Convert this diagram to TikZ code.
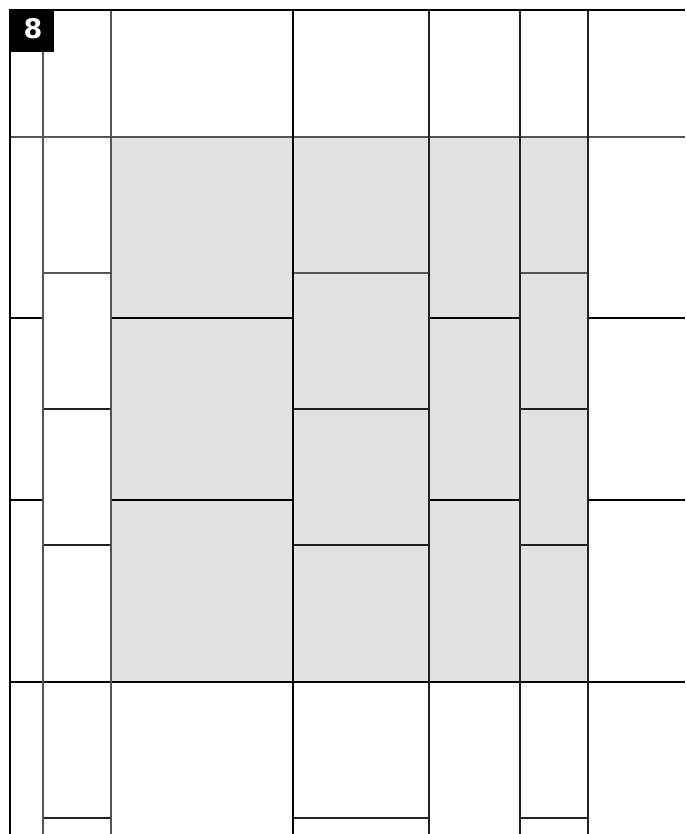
\documentclass[tikz,border=0pt]{standalone}
\usepackage{fontspec}
\newfontfamily\labelfont{DejaVu Sans}
\definecolor{cellgray}{HTML}{E1E1E1}
\definecolor{lineg}{HTML}{555555}
\definecolor{lined}{HTML}{222222}
\begin{document}
\begin{tikzpicture}[x=1pt,y=-1pt,
  blk/.style={draw=black,line width=2pt},
  gry/.style={draw=lineg,line width=2pt},
  drk/.style={draw=lined,line width=2pt}]
\useasboundingbox (0,0) rectangle (685,834);
\fill[white] (0,0) rectangle (685,834);
% gray block
\fill[cellgray] (111,137) rectangle (588,682);
% horizontal full lines
\draw[gry] (10,137) -- (685,137);
\draw[blk] (10,682) -- (685,682);
% narrow columns breaks (B, D, F)
\foreach \y/\s in {273/gry,409/drk,545/drk,818/drk}{
  \draw[\s] (43,\y) -- (111,\y);
  \draw[\s] (293,\y) -- (429,\y);
  \draw[\s] (520,\y) -- (588,\y);
}
% wide columns breaks (A, C, E, G)
\foreach \y in {318,500}{
  \draw[blk] (10,\y) -- (43,\y);
  \draw[blk] (111,\y) -- (293,\y);
  \draw[blk] (429,\y) -- (520,\y);
  \draw[blk] (588,\y) -- (685,\y);
}
% vertical lines
\draw[gry] (43,10) -- (43,834);
\draw[gry] (111,10) -- (111,834);
\draw[blk] (293,10) -- (293,834);
\draw[drk] (429,10) -- (429,834);
\draw[drk] (520,10) -- (520,834);
\draw[drk] (588,10) -- (588,834);
% outer border
\draw[blk,line width=2.2pt] (10,834) -- (10,10) -- (685,10);
% label
\fill[black] (9,9) rectangle (54,52);
\node[text=white,font=\labelfont\bfseries\fontsize{27}{27}\selectfont,inner sep=0pt] (lbl) at (33,29) {8};
\end{tikzpicture}
\end{document}
